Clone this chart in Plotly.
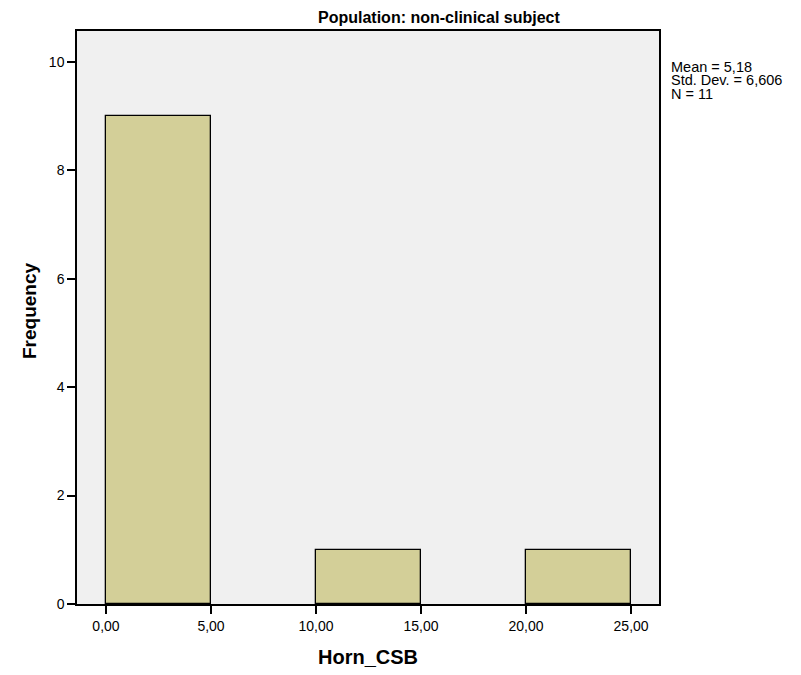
import plotly.graph_objects as go

bin_centers = [2.5, 7.5, 12.5, 17.5, 22.5]
frequencies = [9, 0, 1, 0, 1]
x_tickvals = [0, 5, 10, 15, 20, 25]
x_ticktext = ["0,00", "5,00", "10,00", "15,00", "20,00", "25,00"]
y_tickvals = [0, 2, 4, 6, 8, 10]
stats_lines = ["Mean = 5,18", "Std. Dev. = 6,606", "N = 11"]

# page has an 8px body margin, so the figure is sized to fit the window
OFF = 8
W, H = 801 - OFF, 675 - OFF
PX0, PY0, PX1, PY1 = 77, 31, 659, 604  # plot area in page pixels
L, T = PX0 - OFF, PY0 - OFF
R, B = W - (PX1 - OFF), H - (PY1 - OFF)
PW, PH = PX1 - PX0, PY1 - PY0


def px(x):
    return (x - PX0) / PW


def py(y):
    return 1 - (y - PY0) / PH


bar_y = [v if v > 0 else None for v in frequencies]

fig = go.Figure()
fig.add_trace(go.Bar(
    x=bin_centers, y=bar_y, width=5,
    marker=dict(color="#D3CF98", line=dict(color="black", width=1.3)),
    showlegend=False,
))

font = "Liberation Sans, Arial, sans-serif"
fig.update_layout(
    width=W, height=H,
    margin=dict(l=L, r=R, t=T, b=B),
    paper_bgcolor="white", plot_bgcolor="#F0F0F0",
    font=dict(family=font, color="black", size=14),
    bargap=0,
    xaxis=dict(range=[-1.38, 26.33], tickvals=x_tickvals, ticktext=x_ticktext,
               ticks="outside", ticklen=8, tickwidth=2, tickcolor="black",
               showgrid=False, zeroline=False, showline=True, linecolor="black",
               linewidth=1.5, mirror=True, tickfont=dict(size=14)),
    yaxis=dict(range=[0, 10.57], tickvals=y_tickvals,
               ticks="outside", ticklen=8, tickwidth=2, tickcolor="black",
               showgrid=False, zeroline=False, showline=True, linecolor="black",
               linewidth=1.5, mirror=True, tickfont=dict(size=14)),
)

fig.add_annotation(text="<b>Population: non-clinical subject</b>", xref="paper", yref="paper",
                   x=px(439), y=py(18), showarrow=False,
                   font=dict(size=16), xanchor="center", yanchor="middle")
fig.add_annotation(text="<b>Frequency</b>", xref="paper", yref="paper",
                   x=px(29), y=py(311), textangle=-90, showarrow=False,
                   font=dict(size=19), xanchor="center", yanchor="middle")
fig.add_annotation(text="<b>Horn_CSB</b>", xref="paper", yref="paper",
                   x=px(368), y=py(657), showarrow=False,
                   font=dict(size=20), xanchor="center", yanchor="middle")
for i, line in enumerate(stats_lines):
    fig.add_annotation(text=line, xref="paper", yref="paper",
                       x=px(669), y=py(67 + 13.4 * i), showarrow=False,
                       font=dict(size=14.5), xanchor="left", yanchor="middle", align="left")

fig.write_html("out.html")
